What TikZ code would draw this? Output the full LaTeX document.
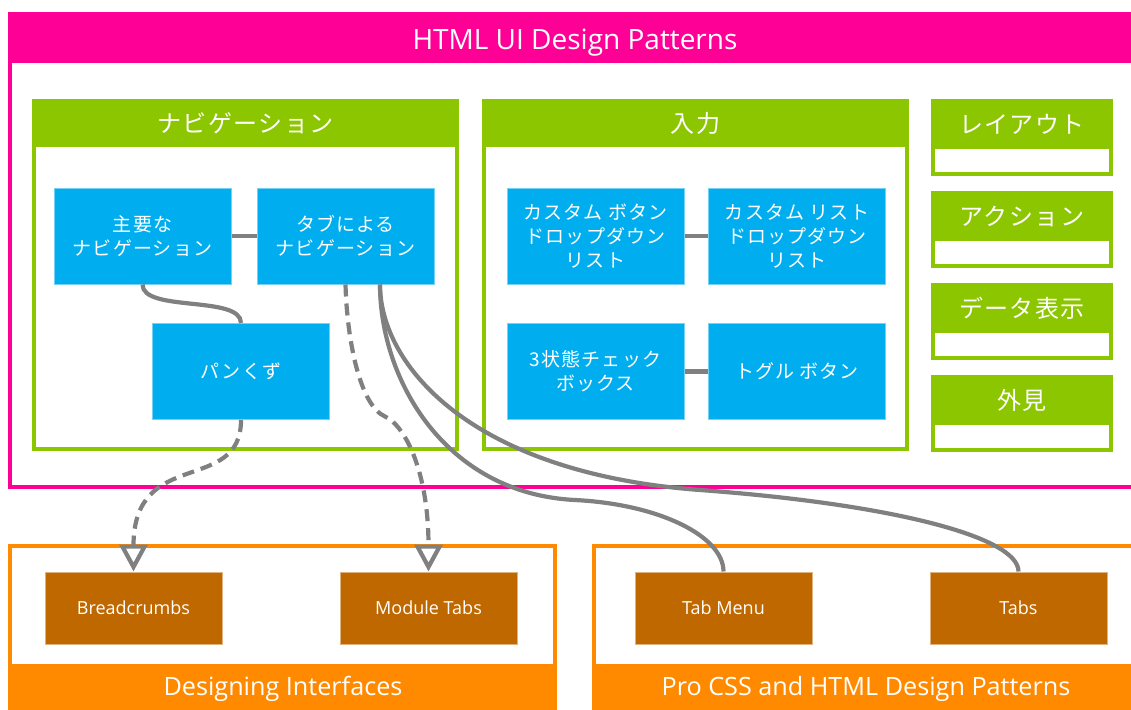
\documentclass[tikz,border=0pt]{standalone}
\usepackage{fontspec}
\setmainfont{Open Sans}
\newfontfamily\jp[LetterSpace=6]{Noto Sans CJK JP}
\usetikzlibrary{arrows.meta,calc}

\definecolor{pinkc}{HTML}{FF0096}
\definecolor{greenc}{HTML}{8CC600}
\definecolor{bluec}{HTML}{00AEEF}
\definecolor{orangec}{HTML}{FF8A00}
\definecolor{brownc}{HTML}{C06800}
\definecolor{linkc}{HTML}{808080}

\begin{document}
\begin{tikzpicture}[x=0.5pt,y=-0.5pt,
  every node/.style={inner sep=0pt, text=white},
  bluebox/.style={fill=bluec, draw=bluec!55!white, line width=0.5pt,
    minimum width=88.5pt, minimum height=48pt, align=center,
    font=\jp\fontsize{9.5}{12}\selectfont},
  brownbox/.style={fill=brownc, draw=brownc!50!white, line width=0.5pt,
    minimum width=88.5pt, minimum height=36pt,
    font=\fontsize{9}{11}\selectfont},
  jphead/.style={font=\jp\fontsize{12}{14}\selectfont, text height=10.56pt, text depth=1.44pt},
  enhead/.style={font=\fontsize{12.6}{15}\selectfont, text height=9pt, text depth=0pt},
  link/.style={draw=linkc, line width=2.1pt},
  dashlink/.style={link, dash pattern=on 6pt off 3.5pt,
    -{Triangle[open,length=13.5pt,width=14pt]}},
]
\useasboundingbox (0,0) rectangle (1131,709);
\clip (0,0) rectangle (1131,709);
\fill[white] (0,0) rectangle (1131,709);

% main group
\fill[pinkc] (8,12) rectangle (1142,489);
\fill[white] (12,63) rectangle (1138,485);
\node[font=\fontsize{14}{16}\selectfont, text height=10pt, text depth=0pt]
  (title) at (575,39.5) {HTML UI Design Patterns};

% navigation group
\fill[greenc] (32,99) rectangle (459,451);
\fill[white] (36,147) rectangle (455,447);
\node[jphead] (navhead) at (245.5,123) {ナビゲーション};

% input group
\fill[greenc] (482,99) rectangle (909,451);
\fill[white] (486,147) rectangle (905,447);
\node[jphead] (inhead) at (695.5,123) {入力};

% small groups on the right
\foreach \t/\lbl/\nm in {99/レイアウト/layout, 191/アクション/action, 283/データ表示/data, 375/外見/look}{
  \fill[greenc] (931,\t) rectangle (1113,\t+77);
  \fill[white] (935,\t+50) rectangle (1109,\t+73);
  \node[jphead] (\nm) at (1022,\t+25) {\lbl};
}

% book groups
\fill[orangec] (8,544) rectangle (557,712);
\fill[white] (12,548) rectangle (553,664);
\node[enhead] (dihead) at (283,686.5) {Designing Interfaces};
\fill[orangec] (592,544) rectangle (1142,712);
\fill[white] (596,548) rectangle (1138,664);
\node[enhead] (prohead) at (866,686.5) {Pro CSS and HTML Design Patterns};

% pattern boxes
\node[bluebox] (main) at (142.5,236) {主要な\\ナビゲーション};
\node[bluebox] (tab) at (345.5,236) {タブによる\\ナビゲーション};
\node[bluebox] (pan) at (241,371.5) {パンくず};
\node[bluebox] (cbtn) at (595.5,236) {カスタム ボタン\\ドロップダウン\\リスト};
\node[bluebox] (clist) at (797,236) {カスタム リスト\\ドロップダウン\\リスト};
\node[bluebox] (tri) at (595.5,371.5) {3状態チェック\\ボックス};
\node[bluebox] (toggle) at (797,371.5) {トグル ボタン};

\node[brownbox] (bread) at (133.5,608) {Breadcrumbs};
\node[brownbox] (modt) at (428.5,608) {Module Tabs};
\node[brownbox] (tabmenu) at (723.5,608) {Tab Menu};
\node[brownbox] (tabs) at (1018.5,608) {Tabs};

% connectors
\draw[link] (main) -- (tab);
\draw[link] (cbtn) -- (clist);
\draw[link] (tri) -- (toggle);
\draw[link] (main.south) .. controls +(0,28) and +(0,-28) .. (pan.north);

\draw[dashlink] (pan.south) .. controls +(0,75) and +(0,-125) .. (bread.north);

\coordinate (kink) at ($(tab.south)+(39.5,132)$);
\draw[dashlink] (tab.south) .. controls +(1.5,56) and +(-25,-11) .. (kink)
  .. controls +(20,9) and +(0,-100) .. (modt.north);

\coordinate (tabout) at ($(tab.south)+(34.5,0)$);
\coordinate (bendm) at (575,500);
\coordinate (bendt) at (700,490);
\draw[link] (tabout) .. controls +(0,95) and +(-130,-6.5) .. (bendm)
  .. controls +(85,4.25) and +(0,-35) .. (tabmenu.north);
\draw[link] (tabout) .. controls +(0,80) and +(-230,-17) .. (bendt)
  .. controls +(190,14) and +(0,-35) .. (tabs.north);
\end{tikzpicture}
\end{document}
